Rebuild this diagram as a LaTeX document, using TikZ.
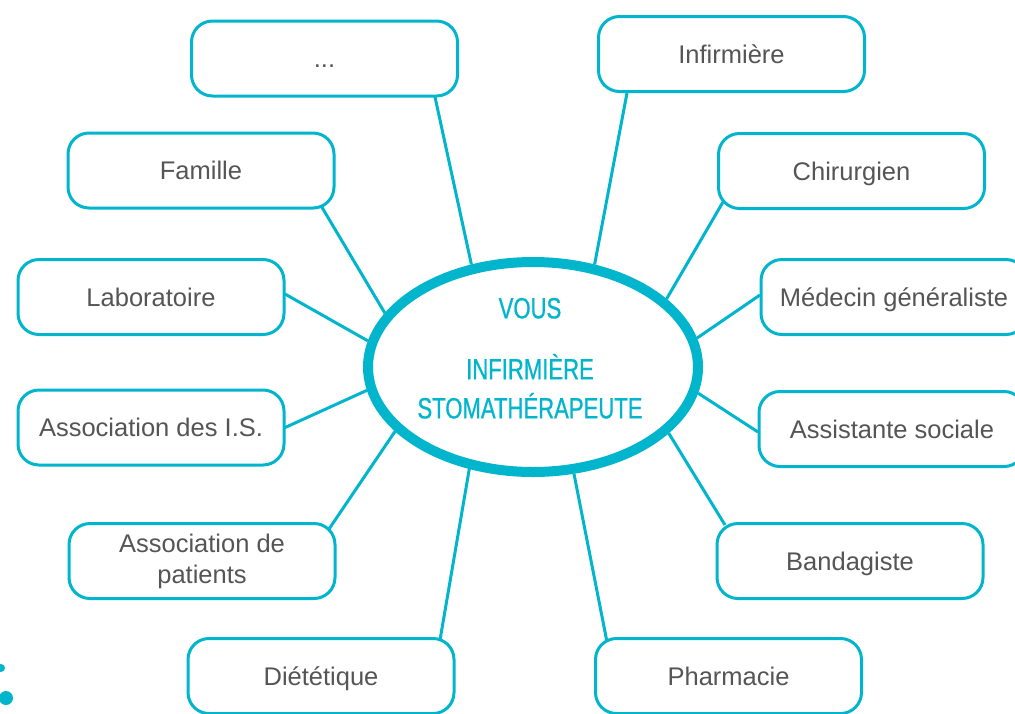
\documentclass[tikz,border=0pt]{standalone}
\usepackage{fontspec}
\setmainfont{Liberation Sans}
\newfontfamily\youfont{Liberation Sans}[FakeStretch=0.754, FakeBold=0.7]
\usepackage{xcolor}
\usepackage{tikz}
\usetikzlibrary{shapes.geometric,backgrounds}
\definecolor{stoma}{RGB}{0, 181, 204}
\definecolor{matetext}{RGB}{85, 85, 85}

\begin{document}
\begin{tikzpicture}[x=1pt, y=-1pt,
    mate/.style={draw=stoma, line width=3pt, fill=white, rounded corners=21pt,
        minimum width=266pt, minimum height=75pt, inner sep=0pt, align=center,
        text=matetext, font=\fontsize{25.5pt}{31pt}\selectfont},
    oneline/.style={mate, text height=18.5pt, text depth=0pt},
    you/.style={ellipse, draw=stoma, line width=10pt, fill=white,
        minimum width=330pt, minimum height=210pt, inner sep=0pt},
    youtext/.style={align=center, text=stoma, inner sep=0pt,
        font=\youfont\fontsize{29.3pt}{39pt}\selectfont},
    link/.style={stoma, line width=3pt}]
    \useasboundingbox (0,0) rectangle (1015,713);
    \clip (0,0) rectangle (1015,713);

    % Centre
    \node[you] (you) at (533,367) {};
    \node[youtext] (youtxt) at (530,358.3) {VOUS\\[22pt]INFIRMIÈRE\\STOMATHÉRAPEUTE};

    % Partners
    \node[oneline] (dots) at (324.5,58.5) {...};
    \node[oneline] (inf) at (731.5,54) {Infirmière};
    \node[oneline] (fam) at (201,170.5) {Famille};
    \node[oneline] (chir) at (851.5,171) {Chirurgien};
    \node[oneline] (lab) at (151,297) {Laboratoire};
    \node[oneline] (med) at (894,297) {Médecin généraliste};
    \node[oneline] (asis) at (151,427.5) {Association des I.S.};
    \node[oneline] (soc) at (892,429) {Assistante sociale};
    \node[mate] (asp) at (202,561) {Association de\\patients};
    \node[oneline] (band) at (850,561) {Bandagiste};
    \node[oneline] (diet) at (321,676) {Diététique};
    \node[oneline] (pharm) at (728.5,676) {Pharmacie};

    % Links
    \begin{scope}[on background layer]
        \draw[link] (you.121) -- ([shift={(110.5,38.5)}]dots.center);
        \draw[link] (you.59) -- ([shift={(-104.5,39)}]inf.center);
        \draw[link] (you.160) -- ([shift={(119,33.5)}]fam.center);
        \draw[link] (you.27) -- ([shift={(-128.5,31)}]chir.center);
        \draw[link] (you.171) -- ([shift={(134,-3)}]lab.center);
        \draw[link] (you.10) -- ([shift={(-134,-2)}]med.center);
        \draw[link] (you.188) -- ([shift={(133,0.5)}]asis.center);
        \draw[link] (you.-9) -- ([shift={(-134,3)}]soc.center);
        \draw[link] (you.205) -- ([shift={(125,-29)}]asp.center);
        \draw[link] (you.-26) -- ([shift={(-125,-36)}]band.center);
        \draw[link] (you.238) -- ([shift={(119,-36)}]diet.center);
        \draw[link] (you.-69) -- ([shift={(-121.5,-34)}]pharm.center);
    \end{scope}

    % Corner dots
    \fill[stoma] (1,668) circle (4);
    \fill[stoma] (6,698) circle (7);
\end{tikzpicture}
\end{document}
